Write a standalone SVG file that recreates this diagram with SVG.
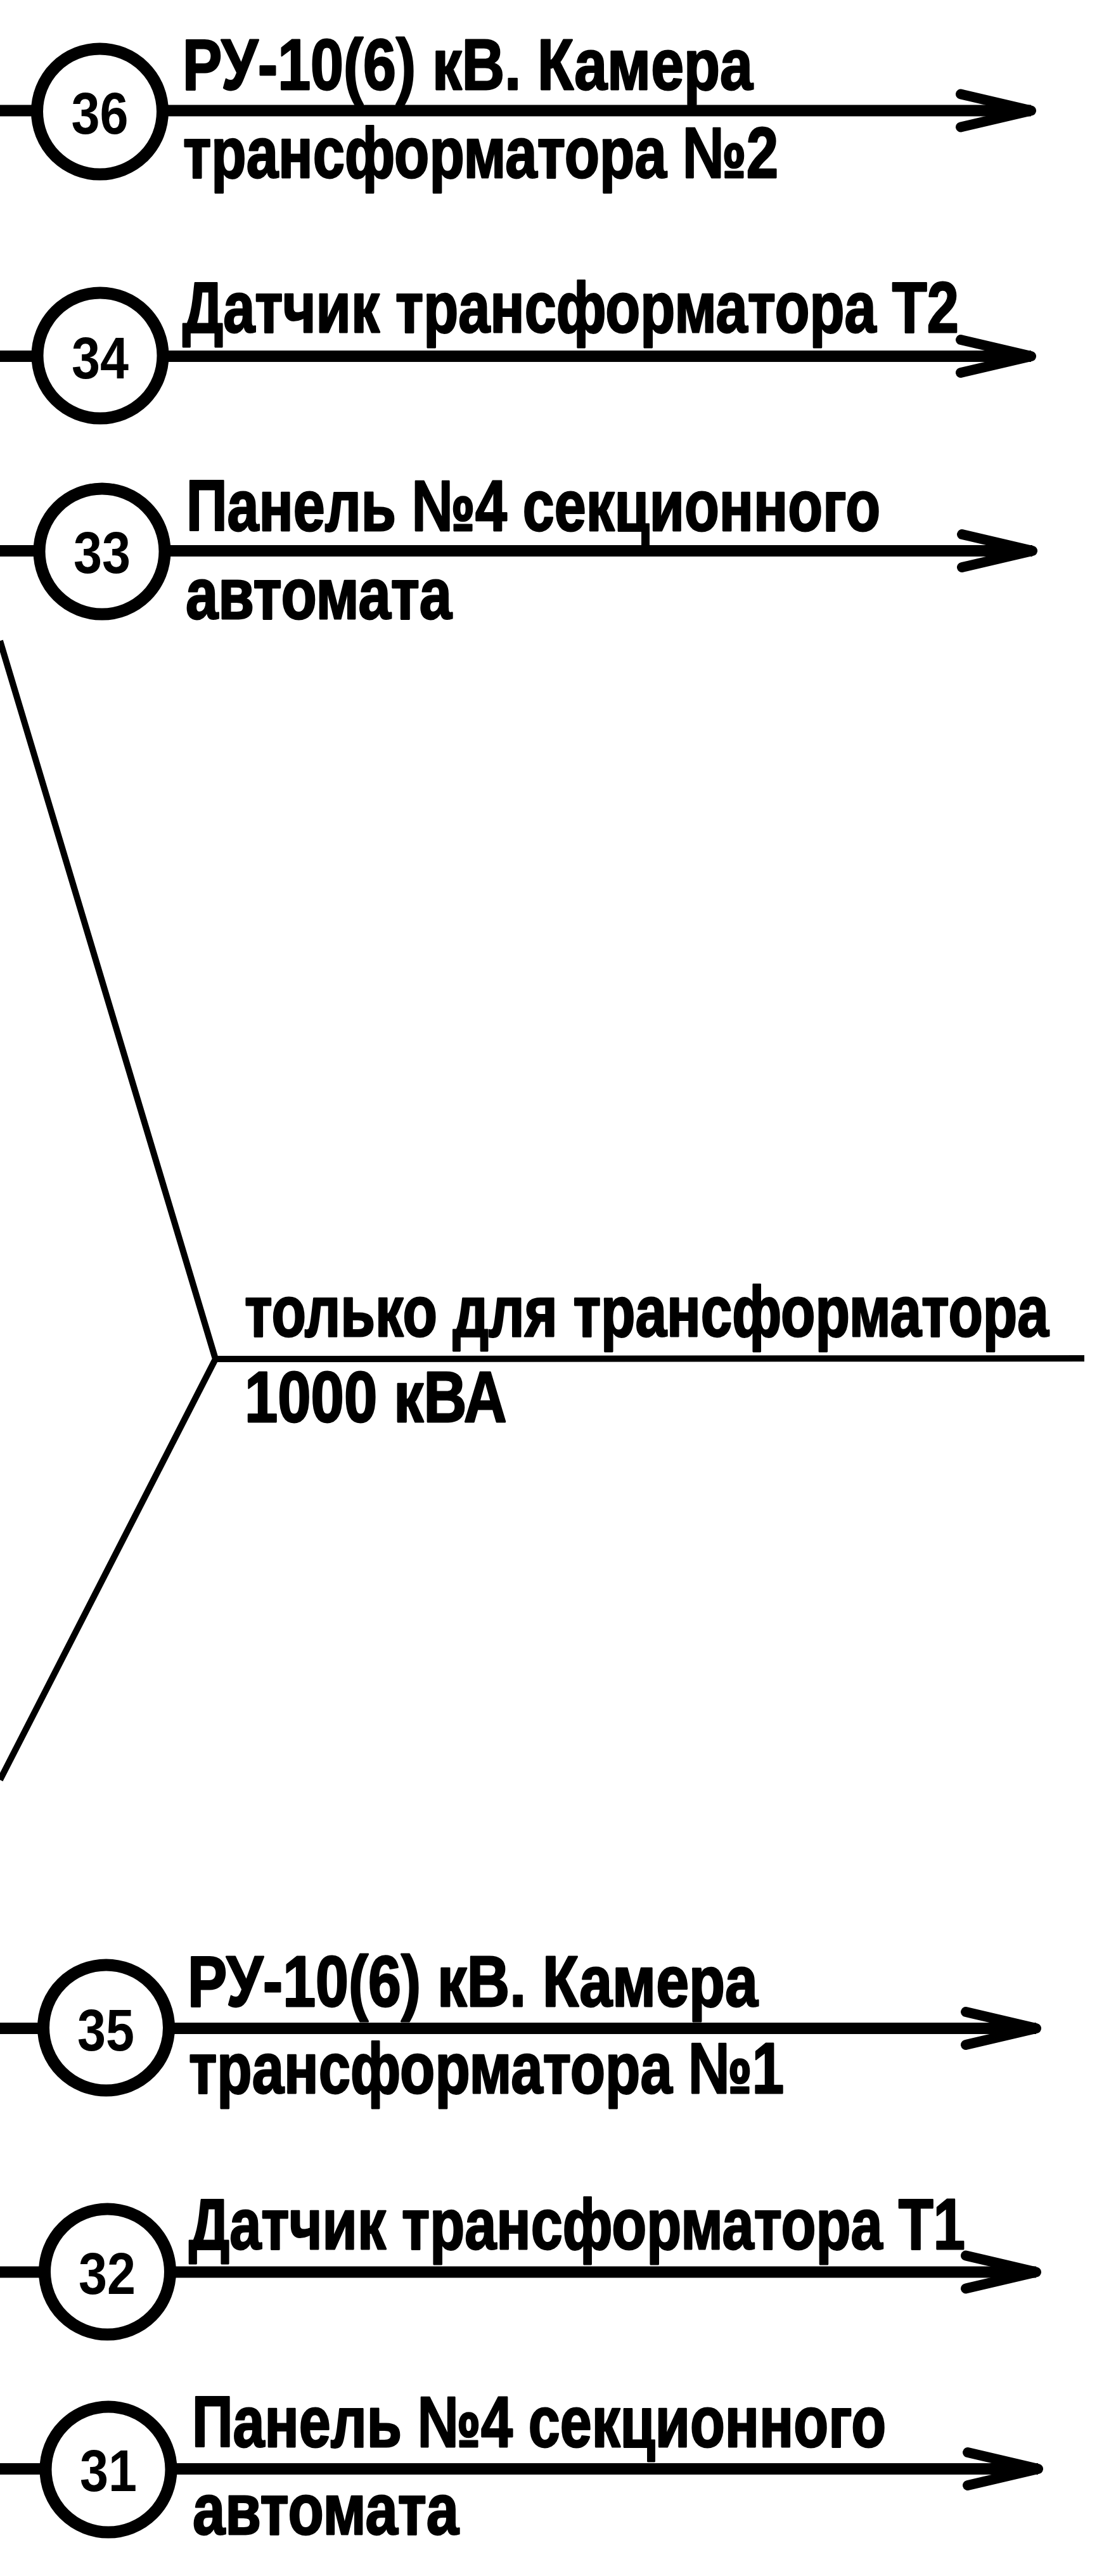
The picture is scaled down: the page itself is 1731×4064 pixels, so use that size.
<svg xmlns="http://www.w3.org/2000/svg" width="1731" height="4064" viewBox="0 0 1731 4064">
<style>
.bg{fill:#fff}
.wire{fill:none;stroke:#000;stroke-width:18;stroke-linecap:butt}
.thin{fill:none;stroke:#000;stroke-width:10;stroke-linejoin:miter}
.ring{fill:#fff;stroke:#000;stroke-width:19}
.num{font-family:"Liberation Sans",Arial,sans-serif;font-weight:bold;font-size:93px;fill:#000;text-anchor:middle}
.lbl{font-family:"Liberation Sans",Arial,sans-serif;font-weight:bold;font-size:113px;fill:#000;stroke:#000;stroke-width:2.8;stroke-linejoin:round}
</style>
<defs>
<marker id="arr" markerUnits="userSpaceOnUse" viewBox="0 0 150 90" refX="130" refY="45" markerWidth="150" markerHeight="90" orient="auto" overflow="visible">
<path d="M19 19 L130 45 L19 71" fill="none" stroke="#000" stroke-width="16" stroke-linejoin="round" stroke-linecap="round"/>
</marker>
</defs>
<rect class="bg" x="0" y="0" width="1731" height="4064"/>
<g id="connectors">
<path class="wire" d="M0 174.5 H1627" marker-end="url(#arr)"/>
<path class="wire" d="M0 562 H1627" marker-end="url(#arr)"/>
<path class="wire" d="M0 869 H1629" marker-end="url(#arr)"/>
<path class="wire" d="M0 3200 H1635" marker-end="url(#arr)"/>
<path class="wire" d="M0 3584.5 H1635" marker-end="url(#arr)"/>
<path class="wire" d="M0 3895 H1638" marker-end="url(#arr)"/>
<path class="thin" d="M0 1011 L340 2144 L0 2808"/>
<path class="thin" d="M340 2144 L1711 2143"/>
</g>
<g id="node-36">
<circle class="ring" cx="157.5" cy="176" r="99"/>
<text class="num" x="157.5" y="210.5" textLength="90" lengthAdjust="spacingAndGlyphs">36</text>
<text class="lbl" transform="translate(288 141) scale(0.8 1)" textLength="1125" lengthAdjust="spacingAndGlyphs">РУ-10(6) кВ. Камера</text>
<text class="lbl" transform="translate(289 279.5) scale(0.8 1)" textLength="1174" lengthAdjust="spacingAndGlyphs">трансформатора №2</text>
</g>
<g id="node-34">
<circle class="ring" cx="158" cy="561" r="99"/>
<text class="num" x="158" y="597" textLength="90" lengthAdjust="spacingAndGlyphs">34</text>
<text class="lbl" transform="translate(288 524) scale(0.8 1)" textLength="1531" lengthAdjust="spacingAndGlyphs">Датчик трансформатора Т2</text>
</g>
<g id="node-33">
<circle class="ring" cx="161" cy="870" r="99"/>
<text class="num" x="161" y="904" textLength="90" lengthAdjust="spacingAndGlyphs">33</text>
<text class="lbl" transform="translate(294 837) scale(0.8 1)" textLength="1369" lengthAdjust="spacingAndGlyphs">Панель №4 секционного</text>
<text class="lbl" transform="translate(293 976) scale(0.8 1)" textLength="525" lengthAdjust="spacingAndGlyphs">автомата</text>
</g>
<g id="note-1000">
<text class="lbl" transform="translate(386 2108) scale(0.8 1)" textLength="1586" lengthAdjust="spacingAndGlyphs">только для трансформатора</text>
<text class="lbl" transform="translate(386 2243) scale(0.8 1)" textLength="517" lengthAdjust="spacingAndGlyphs">1000 кВА</text>
</g>
<g id="node-35">
<circle class="ring" cx="167.5" cy="3199" r="99"/>
<text class="num" x="167" y="3235" textLength="90" lengthAdjust="spacingAndGlyphs">35</text>
<text class="lbl" transform="translate(296 3165) scale(0.8 1)" textLength="1125" lengthAdjust="spacingAndGlyphs">РУ-10(6) кВ. Камера</text>
<text class="lbl" transform="translate(298 3302) scale(0.8 1)" textLength="1174" lengthAdjust="spacingAndGlyphs">трансформатора №1</text>
</g>
<g id="node-32">
<circle class="ring" cx="169.5" cy="3584" r="99"/>
<text class="num" x="169" y="3619" textLength="90" lengthAdjust="spacingAndGlyphs">32</text>
<text class="lbl" transform="translate(298 3548) scale(0.8 1)" textLength="1531" lengthAdjust="spacingAndGlyphs">Датчик трансформатора Т1</text>
</g>
<g id="node-31">
<circle class="ring" cx="171" cy="3896" r="99"/>
<text class="num" x="171" y="3930" textLength="90" lengthAdjust="spacingAndGlyphs">31</text>
<text class="lbl" transform="translate(303 3860) scale(0.8 1)" textLength="1369" lengthAdjust="spacingAndGlyphs">Панель №4 секционного</text>
<text class="lbl" transform="translate(304 3998) scale(0.8 1)" textLength="525" lengthAdjust="spacingAndGlyphs">автомата</text>
</g>
</svg>
